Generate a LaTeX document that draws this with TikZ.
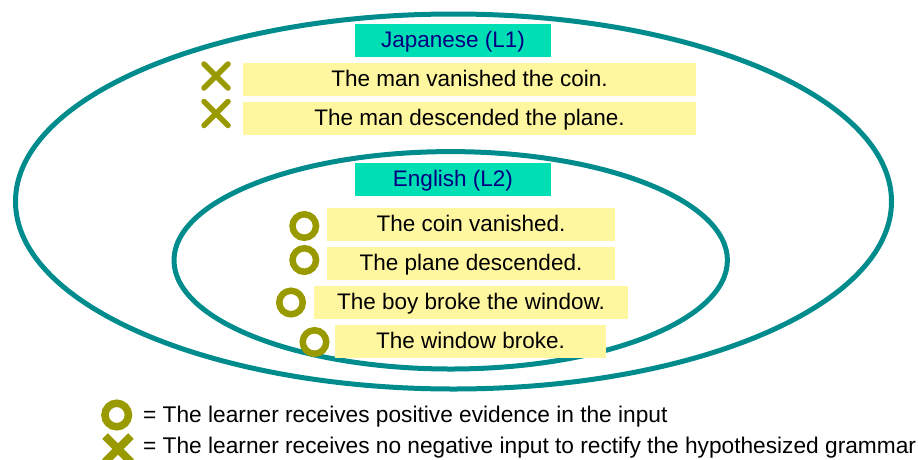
\documentclass[tikz,border=0pt]{standalone}
\usepackage{fontspec}
\setmainfont{Liberation Sans}
\usetikzlibrary{shapes.misc}
\definecolor{ringteal}{RGB}{0,140,140}
\definecolor{labelmint}{RGB}{0,222,180}
\definecolor{labelnavy}{RGB}{0,0,128}
\definecolor{sentyellow}{RGB}{255,246,160}
\definecolor{markolive}{RGB}{153,153,0}

\begin{document}
\begin{tikzpicture}[
  x=1pt,  y=-1pt,  ring/.style={draw=ringteal,line width=5pt},  lang/.style={fill=labelmint,text=labelnavy,minimum width=196pt,minimum height=33pt,inner sep=0pt,text height=17pt,text depth=3pt,font=\fontsize{22.5}{27}\selectfont},  sent/.style={fill=sentyellow,minimum height=33pt,inner sep=0pt,text height=17pt,text depth=3pt,font=\fontsize{22.5}{27}\selectfont},  omark/.style={circle,draw=markolive,line width=6.5pt,minimum size=23.5pt,inner sep=0pt},  xmark/.style={cross out,draw=markolive,line width=5.5pt,line cap=round,minimum size=24pt,inner sep=0pt,outer sep=0pt},  legend/.style={anchor=base west,inner sep=0pt,font=\fontsize{22.7}{27}\selectfont}
]
  \useasboundingbox (0,0) rectangle (918,459);
  \draw[ring] (453.5,201.5) ellipse [x radius=438pt, y radius=187.5pt];
  \draw[ring] (450.7,260.3) ellipse [x radius=276.7pt, y radius=108.7pt];
  \node[lang] (jp) at (453,40.5) {Japanese (L1)};
  \node[sent,minimum width=453pt] (s1) at (469.5,79.5) {The man vanished the coin.};
  \node[sent,minimum width=453pt] (s2) at (469.5,118.5) {The man descended the plane.};
  \node[xmark] (x1) at (216,76) {};
  \node[xmark] (x2) at (216,113.5) {};
  \node[lang] (en) at (453,179.5) {English (L2)};
  \node[sent,minimum width=288pt] (s3) at (471,224.5) {The coin vanished.};
  \node[sent,minimum width=288pt] (s4) at (471,263) {The plane descended.};
  \node[sent,minimum width=314pt] (s5) at (471,302.5) {The boy broke the window.};
  \node[sent,minimum width=271pt] (s6) at (470.5,341.5) {The window broke.};
  \node[omark] (o1) at (304.3,226) {};
  \node[omark] (o2) at (304.3,260) {};
  \node[omark] (o3) at (291,302.5) {};
  \node[omark] (o4) at (314.5,342) {};
  \node[omark,line width=7.5pt] (lo) at (116.7,415) {};
  \node[cross out,draw=markolive,line width=8pt,minimum size=26pt,inner sep=0pt,outer sep=0pt] (lx) at (118,449) {};
  \node[legend] (t1) at (143,422) {= The learner receives positive evidence in the input};
  \node[legend] (t2) at (143,453) {= The learner receives no negative input to rectify the hypothesized grammar};
\end{tikzpicture}
\end{document}
